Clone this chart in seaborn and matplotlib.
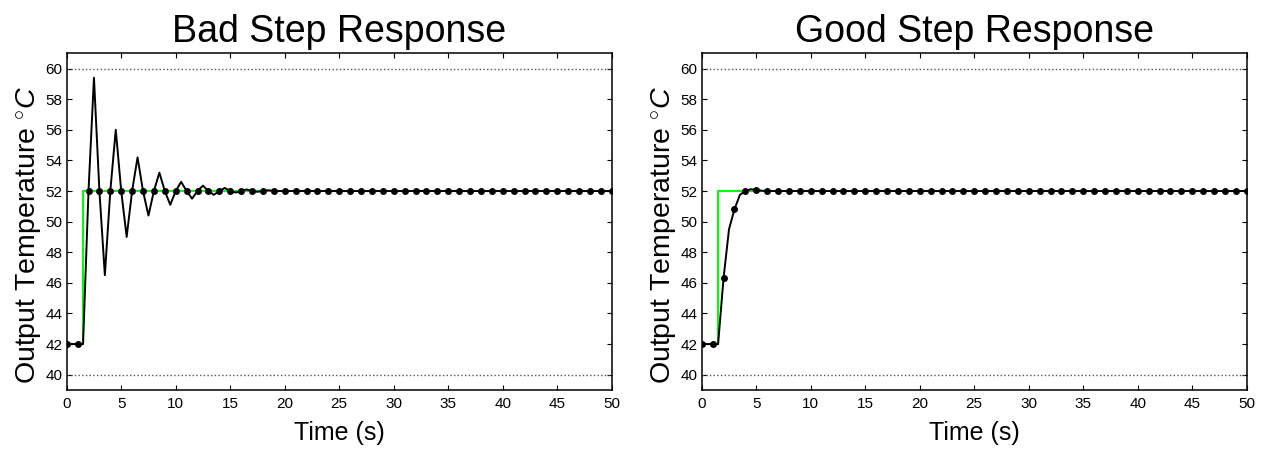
import numpy as np
import pandas as pd
import matplotlib
matplotlib.use("Agg")
import matplotlib.pyplot as plt
import seaborn as sns

# sample time (s), every 0.5 s from 0 to 50
time = np.arange(0, 50.5, 0.5)

# setpoint: 42 until t=1.5, then 52
setpoint = [42, 42, 42] + [52] * 98

# bad (oscillating) response
bad_response = [
    42, 42, 42, 42, 52, 59.4, 52, 46.5, 52, 56.0,
    52, 49.0, 52, 54.2, 52, 50.4, 52, 53.2, 52, 51.1,
    52, 52.6, 52, 51.5, 52, 52.35, 52, 51.75, 52, 52.2,
    52, 51.9, 52, 52.1, 52, 51.95, 52, 52.05, 52, 52,
    52, 52, 52, 52, 52, 52, 52, 52, 52, 52,
    52, 52, 52, 52, 52, 52, 52, 52, 52, 52,
    52, 52, 52, 52, 52, 52, 52, 52, 52, 52,
    52, 52, 52, 52, 52, 52, 52, 52, 52, 52,
    52, 52, 52, 52, 52, 52, 52, 52, 52, 52,
    52, 52, 52, 52, 52, 52, 52, 52, 52, 52,
    52,
]

# good (damped) response
good_response = [
    42, 42, 42, 42, 46.3, 49.5, 50.8, 51.75, 52.0, 52.12,
    52.06, 52.02, 52, 52, 52, 52, 52, 52, 52, 52,
    52, 52, 52, 52, 52, 52, 52, 52, 52, 52,
    52, 52, 52, 52, 52, 52, 52, 52, 52, 52,
    52, 52, 52, 52, 52, 52, 52, 52, 52, 52,
    52, 52, 52, 52, 52, 52, 52, 52, 52, 52,
    52, 52, 52, 52, 52, 52, 52, 52, 52, 52,
    52, 52, 52, 52, 52, 52, 52, 52, 52, 52,
    52, 52, 52, 52, 52, 52, 52, 52, 52, 52,
    52, 52, 52, 52, 52, 52, 52, 52, 52, 52,
    52,
]

titles = ["Bad Step Response", "Good Step Response"]
limits = [40, 60]

sns.set_style("ticks")
plt.rcParams["font.family"] = ["Liberation Sans", "DejaVu Sans"]
plt.rcParams["mathtext.fontset"] = "custom"
plt.rcParams["mathtext.rm"] = "Liberation Sans"
plt.rcParams["mathtext.it"] = "Liberation Sans:italic"
plt.rcParams["text.color"] = "black"
plt.rcParams["axes.labelcolor"] = "black"

fig = plt.figure(figsize=(12.61, 4.51), dpi=100)
ax1 = fig.add_axes([0.0529, 0.1353, 0.4322, 0.7466])
ax2 = fig.add_axes([0.5565, 0.1353, 0.4322, 0.7466])

for ax, resp, title in zip([ax1, ax2], [bad_response, good_response], titles):
    df = pd.DataFrame({"t": time, "setpoint": setpoint, "temp": resp})
    for lim in limits:
        ax.axhline(lim, color="#555555", ls=":", lw=1.0, zorder=1)
    sns.lineplot(data=df, x="t", y="setpoint", ax=ax, color=(0, 1, 0),
                 lw=1.5, drawstyle="steps-post", estimator=None, zorder=2)
    sns.lineplot(data=df, x="t", y="temp", ax=ax, color="black", lw=1.4,
                 marker="o", markersize=5, markeredgewidth=0, markevery=2,
                 estimator=None, zorder=3)

    ax.set_xlim(0, 50)
    ax.set_ylim(39, 61)
    ax.set_xticks(range(0, 51, 5))
    ax.set_yticks(range(40, 61, 2))
    ax.tick_params(direction="in", top=True, right=True, length=3.5,
                   width=0.8, labelsize=11, colors="black")
    ax.tick_params(axis="x", pad=5)
    ax.tick_params(axis="y", pad=3)
    for sp in ax.spines.values():
        sp.set_visible(True)
        sp.set_linewidth(1.1)
        sp.set_color("black")
    ax.set_title(title, fontsize=27, pad=8, color="black")
    ax.set_xlabel("Time (s)", fontsize=18, labelpad=7)
    ax.set_ylabel(r"Output Temperature $^{\circ}C$", fontsize=20.5, labelpad=1)
    ax.yaxis.label.set_y(0.46)

fig.savefig("out.png", dpi=100)
